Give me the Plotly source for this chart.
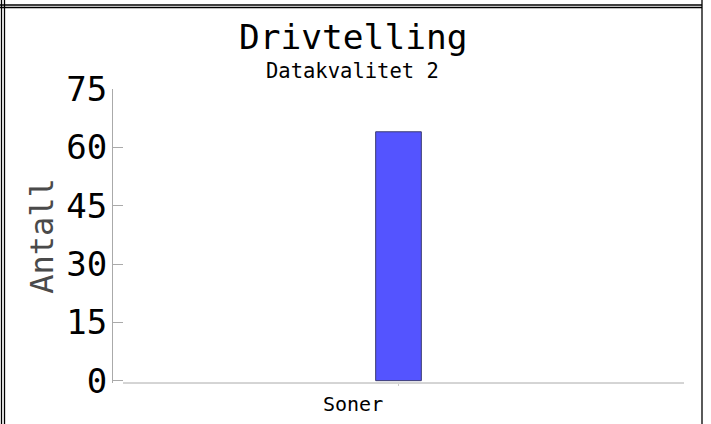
import plotly.graph_objects as go

# data
categories = ["Soner"]
counts = [64]
title_text = "Drivtelling"
subtitle_text = "Datakvalitet 2"
y_title = "Antall"
x_title = "Soner"
y_ticks = [0, 15, 30, 45, 60, 75]

W, H = 711, 424
L, R, T, B = 113, 27, 89, 41
PW, PH = W - L - R, H - T - B
FONT = "DejaVu Sans Mono"


def px_x(p):
    return (p - L) / PW


def px_y(p):
    return (H - B - p) / PH


fig = go.Figure()
fig.add_trace(go.Bar(x=categories, y=counts,
    marker=dict(color="#5454FF", line=dict(color="#3b3b70", width=1))))

# outer frame lines + x axis line
frame = [
    (1.5, 0, 1.5, H), (4.5, 0, 4.5, H), (702, 0, 702, H),
    (0, 5, 702, 5), (0, 7.5, 702, 7.5),
]
shapes = [dict(type="line", xref="paper", yref="paper",
               x0=px_x(a), y0=px_y(b), x1=px_x(c), y1=px_y(d),
               line=dict(color="black", width=1.3)) for a, b, c, d in frame]
shapes.append(dict(type="line", xref="paper", yref="paper",
                   x0=px_x(123), x1=1, y0=0, y1=0,
                   line=dict(color="#aaaaaa", width=1)))

cx = px_x(352.5)
annotations = [
    dict(text=title_text, x=cx, y=px_y(37), xref="paper", yref="paper",
         xanchor="center", yanchor="middle", showarrow=False,
         font=dict(family=FONT, size=34.5, color="black")),
    dict(text=subtitle_text, x=cx, y=px_y(71), xref="paper", yref="paper",
         xanchor="center", yanchor="middle", showarrow=False,
         font=dict(family=FONT, size=20.5, color="black")),
    dict(text=x_title, x=cx, y=px_y(404), xref="paper", yref="paper",
         xanchor="center", yanchor="middle", showarrow=False,
         font=dict(family=FONT, size=20, color="black")),
]

fig.update_layout(
    width=W, height=H,
    margin=dict(l=L, r=R, t=T, b=B, autoexpand=False),
    paper_bgcolor="white", plot_bgcolor="white",
    bargap=0.92, showlegend=False,
    shapes=shapes, annotations=annotations,
    font=dict(family=FONT, color="black"),
)
fig.update_xaxes(showline=False, showgrid=False, zeroline=False,
                 ticks="outside", ticklen=2, tickcolor="#cccccc",
                 showticklabels=False, range=[-0.5, 0.5])
fig.update_yaxes(range=[-0.6, 75], tickvals=y_ticks, showgrid=False, zeroline=False,
                 showline=True, linecolor="#aaaaaa", linewidth=1,
                 ticks="inside", ticklen=10, tickcolor="#aaaaaa",
                 tickfont=dict(family=FONT, size=34, color="black"),
                 ticklabelstandoff=-2,
                 title=dict(text=y_title, standoff=3,
                            font=dict(family=FONT, size=32, color="#4a4a4a")))

# page body has an 8px default margin; drop it so the figure sits at 0,0
fig.write_html("out.html", config={"displayModeBar": False},
               post_script="document.body.style.margin='0';")
